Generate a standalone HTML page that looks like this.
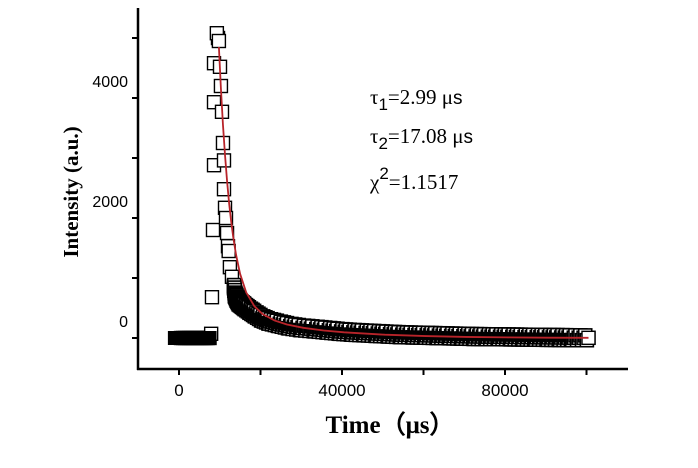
<!DOCTYPE html>
<html><head><meta charset="utf-8"><style>
html,body{margin:0;padding:0;background:#fff;}
svg{display:block;}
</style></head><body>
<svg id="chart" width="698" height="468" viewBox="0 0 698 468">
<g id="marks"></g>
<g id="axes"></g>
<text x="370" y="104" font-family="Liberation Serif, serif" font-size="21">τ<tspan dy="6" font-family="Liberation Sans, sans-serif" font-size="17">1</tspan><tspan dy="-6">=2.99  μ</tspan><tspan font-family="Liberation Sans, sans-serif" font-size="19">s</tspan></text>
<text x="370" y="143" font-family="Liberation Serif, serif" font-size="21">τ<tspan dy="6" font-family="Liberation Sans, sans-serif" font-size="17">2</tspan><tspan dy="-6">=17.08 μ</tspan><tspan font-family="Liberation Sans, sans-serif" font-size="19">s</tspan></text>
<text x="370" y="189" font-family="Liberation Serif, serif" font-size="21">χ<tspan dy="-10" font-family="Liberation Sans, sans-serif" font-size="17">2</tspan><tspan dy="10">=1.1517</tspan></text>
<text x="390" y="433" text-anchor="middle" font-family="Liberation Serif, serif" font-weight="bold" font-size="25">Time（μs）</text>
<text transform="translate(78,192) rotate(-90)" text-anchor="middle" font-family="Liberation Serif, serif" font-weight="bold" font-size="21">Intensity (a.u.)</text>
</svg>
<script>
const xTicks = [0, 20000, 40000, 60000, 80000, 100000];
const xTickLabels = ["0", "", "40000", "", "80000", ""];
const yTicks = [0, 1000, 2000, 3000, 4000, 5000];
const yTickLabels = ["0", "", "2000", "", "4000", ""];
const dataT = [0,500,1000,1500,2000,2500,3000,3500,4000,4500,5000,5500,6000,6500,7000,
 7400,7600,7850,8100,8100,8100,9080,8800,9300,9570,9800,10060,10300,10550,10550,10800,11040,11300,11530,11700,12000,12500,13000,13250,13700,14200,15000,15700,16900,18200,19800,21600,24000,26500,29500,32900,
 36000,39000,42000,45000,48000,51000,54000,57000,60000,63000,66000,69000,72000,75000,78000,81000,84000,87000,90000,93000,96000,100000];
const dataV = [0,0,0,0,0,0,0,0,0,0,0,0,0,0,0,
 70,680,1800,2880,3930,4580,5000,5080,4950,4520,4200,3770,3250,2960,2480,2170,2000,1750,1530,1450,1180,1020,870,730,660,600,560,520,460,400,330,280,240,200,170,150,
 130,110,95,85,75,65,55,50,45,40,35,30,25,22,20,18,15,12,10,8,5,3];
const fitT = [9300,9800,10300,10800,11300,11800,12300,12800,13500,14500,16000,18000,20000,23000,26000,30000,35000,40000,50000,60000,70000,80000,90000,100000];
const fitV = [4850,4150,3550,3050,2620,2250,1950,1690,1390,1070,760,530,400,290,225,170,125,95,55,32,18,10,5,3];

const NS = "http://www.w3.org/2000/svg";
const X0 = 181, XS = 163/40000, Y0 = 338, YS = 0.06;
const xs = t => X0 + t*XS;
const ys = v => Y0 - v*YS;
const marks = document.getElementById('marks');
const axes = document.getElementById('axes');
function mk(tag, attrs, parent){const e=document.createElementNS(NS,tag);for(const k in attrs)e.setAttribute(k,attrs[k]);parent.appendChild(e);return e;}

for (let i=0;i<dataT.length;i++){
  const r = mk('rect',{x:xs(dataT[i])-6.5,y:ys(dataV[i])-6.5,width:13,height:13,fill:'#fff',stroke:'#000','stroke-width':1.4},marks);
  
  
}
for (let i=15;i<dataT.length-1;i++){
  if (dataT[i]<13000) continue;
  const a=dataT[i], b=dataT[i+1];
  for (let k=0;k<10;k++){
    const t=a+(b-a)*k/10, v=dataV[i]+(dataV[i+1]-dataV[i])*k/10 + ((k%3)-1)*40;
    const r = mk('rect',{x:xs(t)-6.5,y:ys(v)-6.5,width:13,height:13,fill:'#fff',stroke:'#000','stroke-width':1.6},marks);
    
    
  }
}
for (let t=-1500;t<=7000;t+=250){
  const r = mk('rect',{x:xs(t)-6.5,y:ys(0)-6.5,width:13,height:13,fill:'#000',stroke:'#000','stroke-width':1},marks);
  
  
}
const last = mk('rect',{x:xs(100000)-6.5,y:ys(3)-6.5,width:13,height:13,fill:'#fff',stroke:'#000','stroke-width':1.4},marks);


const fit = mk('polyline',{points:fitT.map((t,i)=>xs(t)+','+ys(fitV[i])).join(' '),fill:'none',stroke:'#b8242a','stroke-width':1.8},marks);



const ya = mk('line',{x1:138,y1:8,x2:138,y2:370,stroke:'#000','stroke-width':2.5},axes);


const xa = mk('line',{x1:137,y1:369,x2:628,y2:369,stroke:'#000','stroke-width':2.5},axes);


xTicks.forEach((t,i)=>{
  const l = mk('line',{x1:xs(t)-2,y1:369,x2:xs(t)-2,y2:375,stroke:'#000','stroke-width':2},axes);
  
  
  if (xTickLabels[i]){
    const tx = mk('text',{x:xs(t)-2,y:396,'text-anchor':'middle','font-family':'Liberation Sans, sans-serif','font-size':17},axes);
    tx.textContent = xTickLabels[i];
    
    
  }
});
yTicks.forEach((v,i)=>{
  const l = mk('line',{x1:132,y1:ys(v),x2:138,y2:ys(v),stroke:'#000','stroke-width':2},axes);
  
  
  if (yTickLabels[i]){
    const tx = mk('text',{x:128,y:ys(v)-11,'text-anchor':'end','font-family':'Liberation Sans, sans-serif','font-size':16},axes);
    tx.textContent = yTickLabels[i];
    
    
  }
});
</script>
</body></html>
